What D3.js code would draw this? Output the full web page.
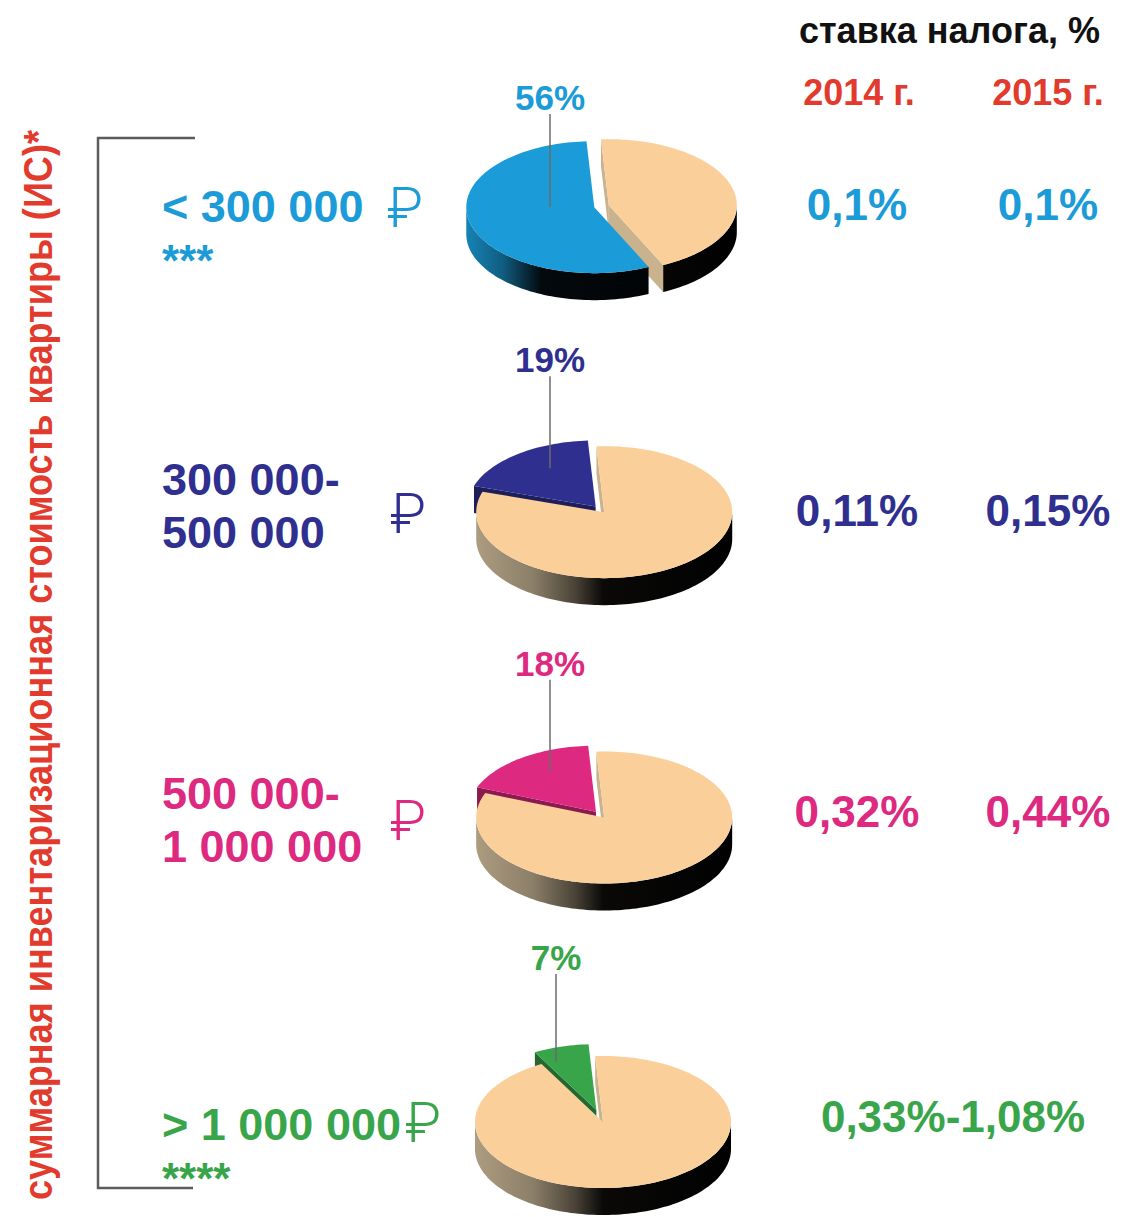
<!DOCTYPE html>
<html>
<head>
<meta charset="utf-8">
<script src="https://cdn.jsdelivr.net/npm/d3@7/dist/d3.min.js"></script>
<style>
body {margin: 0; background: #fff}
svg {display: block}
</style>
</head>
<body>
<div id="chart"></div>
<script>
// data
const ranges = [["< 300 000"], ["300 000-", "500 000"], ["500 000-", "1 000 000"], ["> 1 000 000"]]
const shares = [56, 19, 18, 7]
const rate2014 = ["0,1%", "0,11%", "0,32%"]
const rate2015 = ["0,1%", "0,15%", "0,44%"]
const rateOverMillion = "0,33%-1,08%"
const footnotes = ["***", "", "", "****"]
const years = ["2014 г.", "2015 г."]
const headerText = "ставка налога, %"
const axisTitle = "суммарная инвентаризационная стоимость квартиры (ИС)*"

// styles
const colors = ["#1b9bd7", "#2f2f8f", "#dd2a80", "#39a54a"]
const restColor = "#fbcf9a"
const restFace = "#c9b38f"
const red = "#e23a2c"
const font = "'Liberation Sans', Arial, Helvetica, sans-serif"
const rubFont = "Roboto, 'DejaVu Sans', 'Noto Sans', sans-serif"

const width = 1122, height = 1217
const cx = 603, rx = 128, ry = 66, depth = 27
const tilt = ry / rx
const rot = -3.5 * Math.PI / 180

// layout per row
const explode = [[6, 9], [2, 12], [2, 12], [0, 24]]          // [rest, share]
const labelX = [550, 550, 550, 556]
const labelDy = [-96, -139, -141, -152]
const leaderDy = [1, -43, -45, -60]
const rangeDy = [[16], [-16, 37], [-8, 45], [18]]
const rubPos = [[387, 21], [390, 22], [390, 23], [405, 20]]
const rateDy = [14, 15, 10, 10]

const y = d3.scalePoint().domain(d3.range(shares.length)).range([206, 1122])

const svg = d3.select("#chart").append("svg")
    .attr("width", width)
    .attr("height", height)
    .style("font-family", font)
const defs = svg.append("defs")

const pie = d3.pie().sort(null).value(d => d.value)
    .startAngle(rot).endAngle(rot + 2 * Math.PI)
const poly = d3.line().curve(d3.curveLinearClosed)

function pt(cy, off, a, r, dz) {
    return [cx + off[0] + rx * r * Math.sin(a), cy + off[1] - ry * r * Math.cos(a) + (dz || 0)]
}

function arcPoints(cy, off, a0, a1, dz) {
    const n = Math.max(2, Math.ceil((a1 - a0) / 0.03))
    return d3.range(n + 1).map(i => pt(cy, off, a0 + (a1 - a0) * i / n, 1, dz))
}

function sideGradient(id, base, isRest) {
    const g = defs.append("linearGradient")
        .attr("id", id)
        .attr("gradientUnits", "userSpaceOnUse")
        .attr("x1", cx - rx - 12).attr("x2", cx + rx + 12)
        .attr("y1", 0).attr("y2", 0)
    const stops = isRest
        ? [[0, "#b3a386"], [0.25, "#8c7f68"], [0.4, "#4a4337"], [0.5, "#0a0908"], [1, "#000"]]
        : [[0, d3.color(base).darker(0.4)], [0.14, d3.color(base).darker(1.4)], [0.28, "#04090d"], [1, "#000"]]
    stops.forEach(s => g.append("stop").attr("offset", s[0]).attr("stop-color", s[1]))
}

shares.forEach((share, row) => {
    const cy = y(row)
    const color = colors[row]
    const arcs = pie([
        {key: "rest", value: 100 - share, color: restColor, face: restFace, e: explode[row][0]},
        {key: "share", value: share, color: color, face: d3.color(color).darker(1.3), e: explode[row][1]}
    ])
    arcs.forEach(d => {
        d.mid = (d.startAngle + d.endAngle) / 2
        d.off = [d.data.e * Math.sin(d.mid), -d.data.e * Math.cos(d.mid) * tilt]
        d.gid = `side-${row}-${d.data.key}`
        sideGradient(d.gid, d.data.color, d.data.key === "rest")
    })
    const g = svg.append("g").attr("class", "pie")
    const order = arcs.slice().sort((a, b) => -Math.cos(a.mid) + Math.cos(b.mid))

    // walls
    order.forEach(d => {
        const s0 = Math.max(d.startAngle, Math.PI / 2), s1 = Math.min(d.endAngle, 3 * Math.PI / 2)
        if (s1 > s0) {
            const top = arcPoints(cy, d.off, s0, s1, 0)
            const bottom = arcPoints(cy, d.off, s0, s1, depth).reverse()
            g.append("path")
                .attr("d", poly(top.concat(bottom)))
                .attr("fill", `url(#${d.gid})`)
        }
        ;[[d.startAngle, d.startAngle - Math.PI / 2], [d.endAngle, d.endAngle + Math.PI / 2]].forEach(([a, n]) => {
            if (Math.cos(n) < -0.02) {
                const c0 = pt(cy, d.off, 0, 0, 0), e0 = pt(cy, d.off, a, 1, 0)
                g.append("path")
                    .attr("d", poly([c0, e0, [e0[0], e0[1] + depth], [c0[0], c0[1] + depth]]))
                    .attr("fill", d.data.face)
            }
        })
    })
    // tops
    order.forEach(d => {
        const pts = [pt(cy, d.off, 0, 0, 0)].concat(arcPoints(cy, d.off, d.startAngle, d.endAngle, 0))
        g.append("path")
            .attr("d", poly(pts))
            .attr("fill", d.data.color)
    })

    // share label + leader
    svg.append("line")
        .attr("x1", labelX[row]).attr("x2", labelX[row])
        .attr("y1", cy + labelDy[row] + 4).attr("y2", cy + leaderDy[row])
        .attr("stroke", "#6b6b6b").attr("stroke-width", 1.5)
    svg.append("text")
        .attr("x", labelX[row]).attr("y", cy + labelDy[row])
        .attr("text-anchor", "middle")
        .attr("font-size", 35).attr("font-weight", "bold")
        .attr("fill", color)
        .text(share + "%")

    // range labels
    ranges[row].forEach((t, i) => {
        svg.append("text")
            .attr("x", 162).attr("y", cy + rangeDy[row][i])
            .attr("font-size", 45).attr("font-weight", "bold")
            .attr("fill", color)
            .text(t)
    })
    svg.append("text")
        .attr("x", rubPos[row][0]).attr("y", cy + rubPos[row][1])
        .attr("font-family", rubFont)
        .attr("font-size", 56).attr("font-weight", 300)
        .attr("fill", color)
        .text("₽")
    if (footnotes[row]) {
        svg.append("text")
            .attr("x", 162).attr("y", cy + rangeDy[row][0] + 54)
            .attr("font-size", 44).attr("font-weight", "bold")
            .attr("fill", color)
            .text(footnotes[row])
    }

    // rates
    const ry0 = cy + rateDy[row]
    if (row < rate2014.length) {
        [[857, rate2014[row]], [1048, rate2015[row]]].forEach(([x, t]) => {
            svg.append("text")
                .attr("x", x).attr("y", ry0)
                .attr("text-anchor", "middle")
                .attr("font-size", 44).attr("font-weight", "bold")
                .attr("fill", color)
                .text(t)
        })
    } else {
        svg.append("text")
            .attr("x", 953).attr("y", ry0)
            .attr("text-anchor", "middle")
            .attr("font-size", 44).attr("font-weight", "bold")
            .attr("fill", color)
            .text(rateOverMillion)
    }
})

// header
svg.append("text")
    .attr("x", 1100).attr("y", 43)
    .attr("text-anchor", "end")
    .attr("font-size", 36).attr("font-weight", "bold")
    .attr("fill", "#111")
    .text(headerText)
years.forEach((t, i) => {
    svg.append("text")
        .attr("x", [859, 1048][i]).attr("y", 105)
        .attr("text-anchor", "middle")
        .attr("font-size", 36).attr("font-weight", "bold")
        .attr("fill", red)
        .text(t)
})

// bracket
svg.append("path")
    .attr("d", "M195,138H98V1188H193")
    .attr("fill", "none")
    .attr("stroke", "#5c5c5c")
    .attr("stroke-width", 2.5)

// vertical title
svg.append("text")
    .attr("transform", "translate(52,1200) rotate(-90)")
    .attr("font-size", 40).attr("font-weight", "bold")
    .attr("fill", red)
    .attr("textLength", 1070)
    .attr("lengthAdjust", "spacingAndGlyphs")
    .text(axisTitle)
</script>
</body>
</html>
